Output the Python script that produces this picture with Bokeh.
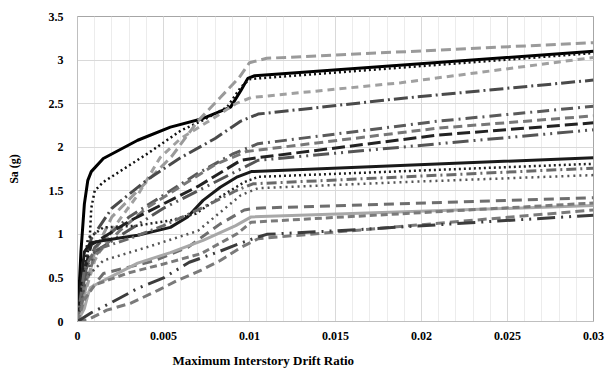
from bokeh.plotting import figure
from bokeh.models import Range1d, FixedTicker, NumeralTickFormatter, Title
from bokeh.embed import file_html
from bokeh.resources import INLINE

# ---- data (drift ratio, Sa in g) ----
c01_x = [0, 0.0002, 0.0004, 0.0006, 0.0008, 0.0015, 0.0035, 0.0054, 0.0073, 0.0089, 0.0095, 0.0099, 0.0103, 0.03]
c01_y = [0, 0.8, 1.35, 1.62, 1.72, 1.87, 2.08, 2.23, 2.33, 2.46, 2.65, 2.79, 2.82, 3.1]
c02_x = [0, 0.0003, 0.0007, 0.0008, 0.0010, 0.0015, 0.0041, 0.006, 0.0073, 0.0087, 0.0095, 0.0100, 0.0105, 0.03]
c02_y = [0, 0.5, 0.9, 1.3, 1.5, 1.6, 1.93, 2.19, 2.31, 2.46, 2.69, 2.78, 2.79, 3.08]
c03_x = [0, 0.0005, 0.001, 0.002, 0.004, 0.0055, 0.007, 0.0083, 0.0094, 0.0100, 0.011, 0.03]
c03_y = [0, 0.4, 0.8, 1.2, 1.6, 1.9, 2.3, 2.57, 2.8, 2.97, 3.02, 3.2]
c04_x = [0, 0.0004, 0.001, 0.002, 0.0035, 0.0048, 0.006, 0.0078, 0.0092, 0.0101, 0.0188, 0.03]
c04_y = [0, 0.3, 0.7, 1.05, 1.45, 1.88, 2.1, 2.32, 2.5, 2.57, 2.74, 3.03]
c05_x = [0, 0.0003, 0.0008, 0.002, 0.004, 0.006, 0.008, 0.0095, 0.0105, 0.0188, 0.03]
c05_y = [0, 0.5, 0.95, 1.3, 1.62, 1.88, 2.1, 2.3, 2.38, 2.56, 2.77]
c06_x = [0, 0.0005, 0.001, 0.003, 0.005, 0.007, 0.009, 0.0105, 0.021, 0.03]
c06_y = [0, 0.6, 0.85, 1.2, 1.45, 1.7, 1.92, 2.04, 2.3, 2.47]
c07_x = [0, 0.0004, 0.001, 0.0025, 0.004, 0.006, 0.008, 0.0098, 0.021, 0.03]
c07_y = [0, 0.4, 0.75, 1.05, 1.3, 1.55, 1.8, 1.95, 2.22, 2.36]
c08_x = [0, 0.0003, 0.0008, 0.003, 0.005, 0.007, 0.0095, 0.0105, 0.021, 0.03]
c08_y = [0, 0.5, 0.88, 1.15, 1.35, 1.55, 1.85, 1.88, 2.14, 2.28]
c09_x = [0, 0.0004, 0.001, 0.003, 0.005, 0.007, 0.0095, 0.0105, 0.021, 0.03]
c09_y = [0, 0.5, 0.8, 1.05, 1.3, 1.5, 1.75, 1.85, 2.04, 2.2]
c10_x = [0, 0.0002, 0.0004, 0.00075, 0.0015, 0.0035, 0.0054, 0.0064, 0.0073, 0.0083, 0.0093, 0.0101, 0.03]
c10_y = [0, 0.45, 0.8, 0.9, 0.93, 0.99, 1.08, 1.2, 1.39, 1.54, 1.66, 1.72, 1.88]
c11_x = [0, 0.0003, 0.0006, 0.0015, 0.0035, 0.0054, 0.0069, 0.0083, 0.0097, 0.0105, 0.03]
c11_y = [0, 0.5, 0.95, 1.08, 1.1, 1.16, 1.24, 1.43, 1.6, 1.66, 1.81]
c12_x = [0, 0.0004, 0.001, 0.003, 0.005, 0.007, 0.0092, 0.0102, 0.03]
c12_y = [0, 0.6, 0.82, 0.95, 1.1, 1.28, 1.5, 1.58, 1.76]
c13_x = [0, 0.0005, 0.0015, 0.004, 0.007, 0.0095, 0.0105, 0.019, 0.03]
c13_y = [0, 0.5, 0.7, 0.85, 1.04, 1.45, 1.53, 1.6, 1.68]
c14_x = [0, 0.0003, 0.0015, 0.0045, 0.0064, 0.0083, 0.0097, 0.0103, 0.03]
c14_y = [0, 0.25, 0.55, 0.7, 0.85, 1.12, 1.28, 1.3, 1.42]
c15_x = [0, 0.0004, 0.0006, 0.00075, 0.0015, 0.0035, 0.0054, 0.0073, 0.0092, 0.0101, 0.03]
c15_y = [0, 0.15, 0.3, 0.39, 0.47, 0.67, 0.79, 0.93, 1.1, 1.2, 1.33]
c16_x = [0, 0.0004, 0.001, 0.003, 0.005, 0.0072, 0.0083, 0.0093, 0.0101, 0.03]
c16_y = [0, 0.25, 0.42, 0.56, 0.66, 0.78, 0.9, 1.01, 1.14, 1.36]
c17_x = [0, 0.0006, 0.0017, 0.0031, 0.0047, 0.0058, 0.0072, 0.0083, 0.0095, 0.0105, 0.03]
c17_y = [0, 0.02, 0.13, 0.21, 0.36, 0.47, 0.59, 0.7, 0.85, 0.95, 1.28]
c18_x = [0, 0.0008, 0.002, 0.0035, 0.005, 0.0065, 0.0082, 0.0095, 0.0105, 0.011, 0.0168, 0.03]
c18_y = [0, 0.1, 0.22, 0.38, 0.5, 0.68, 0.8, 0.9, 0.97, 1.0, 1.06, 1.22]

x_ticks = [0, 0.005, 0.01, 0.015, 0.02, 0.025, 0.03]
y_ticks = [0, 0.5, 1, 1.5, 2, 2.5, 3, 3.5]

curves = [
    (c01_x, c01_y, "#000000", "solid", 3.0),
    (c02_x, c02_y, "#111111", "2 3", 2.5),
    (c03_x, c03_y, "#9a9a9a", "10 5", 3.0),
    (c04_x, c04_y, "#a0a0a0", "7 5", 3.0),
    (c05_x, c05_y, "#4a4a4a", "14 4 2 4", 3.0),
    (c06_x, c06_y, "#5a5a5a", "12 5 2 5", 3.0),
    (c07_x, c07_y, "#777777", "9 5", 3.0),
    (c08_x, c08_y, "#222222", "13 5", 3.0),
    (c09_x, c09_y, "#555555", "16 5 2 5 2 5", 3.0),
    (c10_x, c10_y, "#1a1a1a", "solid", 3.0),
    (c11_x, c11_y, "#222222", "2 3", 2.5),
    (c12_x, c12_y, "#6a6a6a", "10 4 2 4", 3.0),
    (c13_x, c13_y, "#555555", "2 4", 2.5),
    (c14_x, c14_y, "#6e6e6e", "10 6", 3.0),
    (c15_x, c15_y, "#a8a8a8", "solid", 3.0),
    (c16_x, c16_y, "#7a7a7a", "7 4", 3.0),
    (c17_x, c17_y, "#7a7a7a", "9 5", 3.0),
    (c18_x, c18_y, "#3c3c3c", "18 6 2 6 2 6", 3.0),
]

FONT = "'Liberation Serif'"

p = figure(width=608, height=378, output_backend="svg", toolbar_location=None,
           x_range=Range1d(0, 0.03), y_range=Range1d(0, 3.5),
           min_border_left=77, min_border_right=15, min_border_top=16, min_border_bottom=57)
p.background_fill_color = "white"
p.border_fill_color = "white"
p.outline_line_color = "#a6a6a6"
p.outline_line_width = 1

minor = [i * 0.001 for i in range(31)]
p.xaxis.ticker = FixedTicker(ticks=x_ticks, minor_ticks=minor)
p.yaxis.ticker = FixedTicker(ticks=y_ticks)
p.xaxis.formatter = NumeralTickFormatter(format="0.[000]")
p.yaxis.formatter = NumeralTickFormatter(format="0.[0]")

p.xgrid.grid_line_color = "#d9d9d9"
p.xgrid.minor_grid_line_color = "#ececec"
p.ygrid.grid_line_color = "#d9d9d9"

for ax in (p.xaxis, p.yaxis):
    ax.major_tick_out = 0
    ax.major_tick_in = 0
    ax.minor_tick_out = 0
    ax.minor_tick_in = 0
    ax.major_label_text_font = FONT
    ax.major_label_text_font_style = "bold"
    ax.major_label_text_font_size = "12px"
    ax.major_label_text_color = "#000000"
    ax.axis_label_text_font = FONT
    ax.axis_label_text_font_style = "bold"
    ax.axis_label_text_font_size = "12px"
    ax.axis_label_text_color = "#000000"

p.xaxis.axis_line_color = "#bfbfbf"
p.yaxis.axis_line_color = "#bfbfbf"
p.xaxis.major_label_standoff = 10
p.yaxis.major_label_standoff = 14
p.yaxis.axis_label = "Sa (g)"
p.yaxis.axis_label_standoff = 25

# spacer so the x-axis title sits where it does in the reference
p.xaxis.axis_label = " "
p.xaxis.axis_label_text_font_size = "5px"
p.xaxis.axis_label_standoff = 0

for xs, ys, col, dash, w in curves:
    p.line(xs, ys, line_color=col, line_dash=dash, line_width=w)

p.add_layout(Title(text="Maximum Interstory Drift Ratio", align="left", offset=95,
                   text_font=FONT, text_font_style="bold", text_font_size="13px",
                   text_color="#000000", standoff=0), "below")

open("out.html", "w").write(file_html(p, INLINE))
